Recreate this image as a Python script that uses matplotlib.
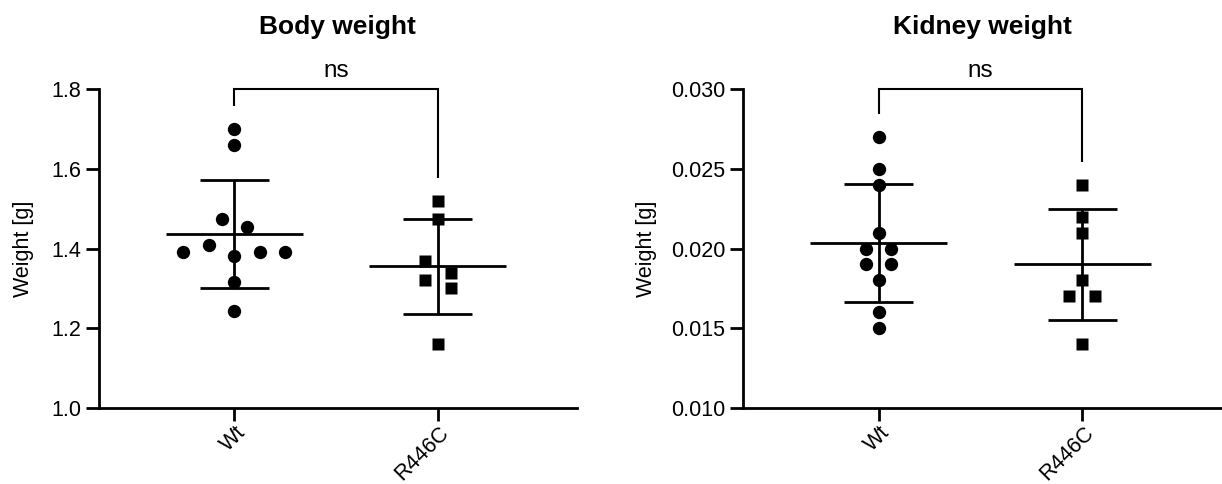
import numpy as np
import matplotlib
matplotlib.use("Agg")
import matplotlib.pyplot as plt
from matplotlib.transforms import ScaledTranslation
from matplotlib.ticker import FormatStrFormatter, MultipleLocator

# ---------------- data ----------------
groups = ["Wt", "R446C"]
titles = ["Body weight", "Kidney weight"]
y_label = "Weight [g]"
sig_labels = ["ns", "ns"]

body_wt = [1.38, 1.41, 1.39, 1.39, 1.39, 1.455, 1.475, 1.70, 1.66, 1.316, 1.244]
body_r446c = [1.339, 1.322, 1.368, 1.301, 1.52, 1.475, 1.16]
kidney_wt = [0.027, 0.025, 0.024, 0.021, 0.020, 0.020, 0.019, 0.019, 0.018, 0.016, 0.015]
kidney_r446c = [0.024, 0.022, 0.021, 0.018, 0.017, 0.017, 0.014]

body_ylim = (1.0, 1.8)
body_ystep = 0.2
kidney_ylim = (0.010, 0.030)
kidney_ystep = 0.005

# ---------------- style ----------------
plt.rcParams['font.family'] = ['Liberation Sans', 'DejaVu Sans']
MARKERS = ['o', 's']
MARKER_SIZES = [9.6, 9.2]
SPREAD_PT = 9.2          # horizontal spacing unit of the scatter, points
COLLIDE_PX = 13.5        # vertical distance under which points collide
MEAN_HALF = 0.337
CAP_HALF = 0.17
BRACKET_GAP = 0.072      # fraction of y span between top point and bracket leg
LW = 2.0
TICK_FS = 15.5

fig = plt.figure(figsize=(12.22, 4.84), dpi=100)
ax_body = fig.add_axes([0.0810, 0.1576, 0.3909, 0.6579])
ax_kid = fig.add_axes([0.6083, 0.1576, 0.3909, 0.6579])


def swarm_slots(ax, values):
    vals = np.asarray(values, dtype=float)
    ys = ax.transData.transform(np.column_stack([np.zeros(len(vals)), vals]))[:, 1]
    cands = [0, -2, 2, -4, 4, -6, 6, -8, 8]
    slots = []
    for i, y in enumerate(ys):
        for c in cands:
            if all(not (slots[j] == c and abs(ys[j] - y) < COLLIDE_PX) for j in range(i)):
                slots.append(c)
                break
    slots = np.array(slots, dtype=float)
    # connected components by vertical proximity, then centre each one
    n = len(ys)
    parent = list(range(n))

    def find(a):
        while parent[a] != a:
            parent[a] = parent[parent[a]]
            a = parent[a]
        return a

    for i in range(n):
        for j in range(i + 1, n):
            if abs(ys[i] - ys[j]) < COLLIDE_PX:
                parent[find(i)] = find(j)
    roots = np.array([find(i) for i in range(n)])
    for r in set(roots):
        idx = roots == r
        slots[idx] -= (slots[idx].min() + slots[idx].max()) / 2.0
    return slots


def draw_panel(ax, series, ylim, ystep, fmt, title, sig, labelpad):
    ax.set_xlim(-0.665, 1.682)
    ax.set_ylim(*ylim)
    p0 = ax.transData.transform((0, ylim[0]))[0]
    p1 = ax.transData.transform((1, ylim[0]))[0]
    d_units = SPREAD_PT * fig.dpi / 72.0 / (p1 - p0)
    for i, vals in enumerate(series):
        vals = np.asarray(vals, dtype=float)
        slots = swarm_slots(ax, vals)
        xs = i + slots * d_units
        ax.plot(xs, vals, ls='none', marker=MARKERS[i], ms=MARKER_SIZES[i],
                color='black', mec='none', zorder=3, clip_on=False)
        m = vals.mean()
        sd = vals.std(ddof=1)
        ax.hlines(m, i - MEAN_HALF, i + MEAN_HALF, color='black', lw=LW, zorder=2)
        ax.vlines(i, m - sd, m + sd, color='black', lw=LW, zorder=2)
        ax.hlines([m - sd, m + sd], i - CAP_HALF, i + CAP_HALF, color='black', lw=LW, zorder=2)

    top = ylim[1]
    gap = BRACKET_GAP * (ylim[1] - ylim[0])
    ax.plot([0, 0, 1, 1], [max(series[0]) + gap, top, top, max(series[1]) + gap],
            color='black', lw=1.5, clip_on=False, solid_joinstyle='miter',
            solid_capstyle='butt')
    ax.annotate(sig, xy=(0.5, top), xytext=(0, 9), textcoords='offset points',
                ha='center', va='baseline', fontsize=17.5, annotation_clip=False)

    for s in ['top', 'right']:
        ax.spines[s].set_visible(False)
    for s in ['left', 'bottom']:
        ax.spines[s].set_linewidth(LW)
    ax.yaxis.set_major_locator(MultipleLocator(ystep))
    ax.yaxis.set_major_formatter(FormatStrFormatter(fmt))
    ax.set_xticks(range(len(groups)))
    ax.set_xticklabels(groups, rotation=45, ha='right', va='center',
                       rotation_mode='anchor')
    ax.tick_params(axis='both', direction='out', length=9.5, width=LW,
                   labelsize=TICK_FS)
    ax.tick_params(axis='y', pad=3.5)
    ax.tick_params(axis='x', pad=6)
    shift = ScaledTranslation(6 / 72.0, 0, fig.dpi_scale_trans)
    for lab in ax.get_xticklabels():
        lab.set_transform(lab.get_transform() + shift)
    ax.set_ylabel(y_label, fontsize=TICK_FS, labelpad=labelpad)
    ax.set_title(title, fontsize=19, fontweight='bold', pad=39.6)


draw_panel(ax_body, [body_wt, body_r446c], body_ylim, body_ystep, '%.1f',
           titles[0], sig_labels[0], 12)
draw_panel(ax_kid, [kidney_wt, kidney_r446c], kidney_ylim, kidney_ystep, '%.3f',
           titles[1], sig_labels[1], 10)

fig.savefig("out.png", dpi=100, facecolor='white')
